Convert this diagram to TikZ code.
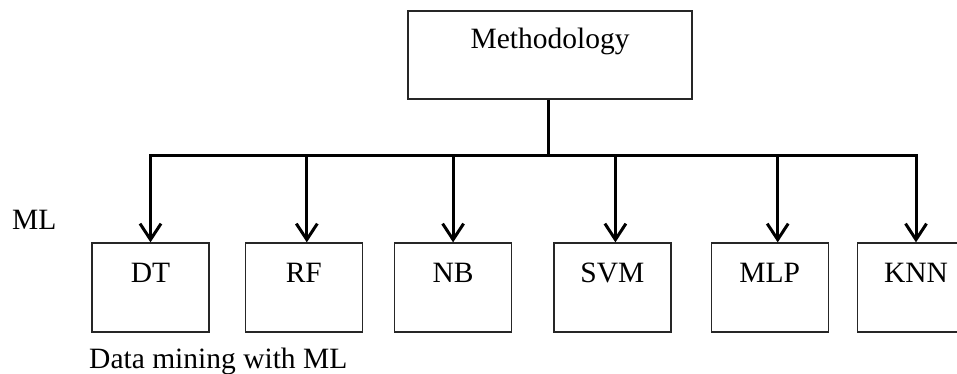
\documentclass[tikz,border=0pt]{standalone}
\usepackage{fontspec}
\setmainfont{Liberation Serif}
\usetikzlibrary{positioning,arrows.meta,calc}

\begin{document}
\begin{tikzpicture}[
    x=1pt, y=-1pt,
    node distance=35pt,
    headbox/.style={
      draw=black!85,
      line width=1.3pt,
      minimum width=284pt,
      inner sep=0pt,
      text height=37pt,
      text depth=51pt,
      font=\fontsize{29.5}{35}\selectfont
    },
    mlbox/.style={
      draw=black!85,
      line width=1.3pt,
      minimum width=117pt,
      inner sep=0pt,
      text height=39pt,
      text depth=50pt,
      font=\fontsize{29.5}{35}\selectfont
    },
    plain/.style={
      inner sep=0pt,
      font=\fontsize{29.5}{35}\selectfont
    },
    trunk/.style={
      line width=3pt
    },
    branch/.style={
      -{Straight Barb[length=16pt,width=21pt]},
      line width=3pt
    }
  ]
  \useasboundingbox (0,0) rectangle (957,373);

  \node[headbox] (meth) at (550,55) {Methodology};

  \node[mlbox] (dt) at (150.5,287.5) {DT};
  \node[mlbox, right=35pt of dt] (rf) {RF};
  \node[mlbox, right=31pt of rf] (nb) {NB};
  \node[mlbox, right=41pt of nb] (svm) {SVM};
  \node[mlbox, right=39pt of svm] (mlp) {MLP};
  \node[mlbox, right=28pt of mlp] (knn) {KNN};

  \node[plain, anchor=base west] (ml) at (12,229) {ML};
  \node[plain, anchor=base west] (dm) at (89,368) {Data mining with ML};

  \coordinate (hub) at (548,155);

  \draw[trunk] (meth.south -| hub) -- (hub);
  \draw[branch] (hub) -| (dt.north);
  \draw[branch] (hub) -| (knn.north);
  \draw[branch] ([xshift=3pt]rf.north |- hub) -- ([xshift=3pt]rf.north);
  \draw[branch] (nb.north |- hub) -- (nb.north);
  \draw[branch] ([xshift=3pt]svm.north |- hub) -- ([xshift=3pt]svm.north);
  \draw[branch] ([xshift=8pt]mlp.north |- hub) -- ([xshift=8pt]mlp.north);

\end{tikzpicture}
\end{document}
